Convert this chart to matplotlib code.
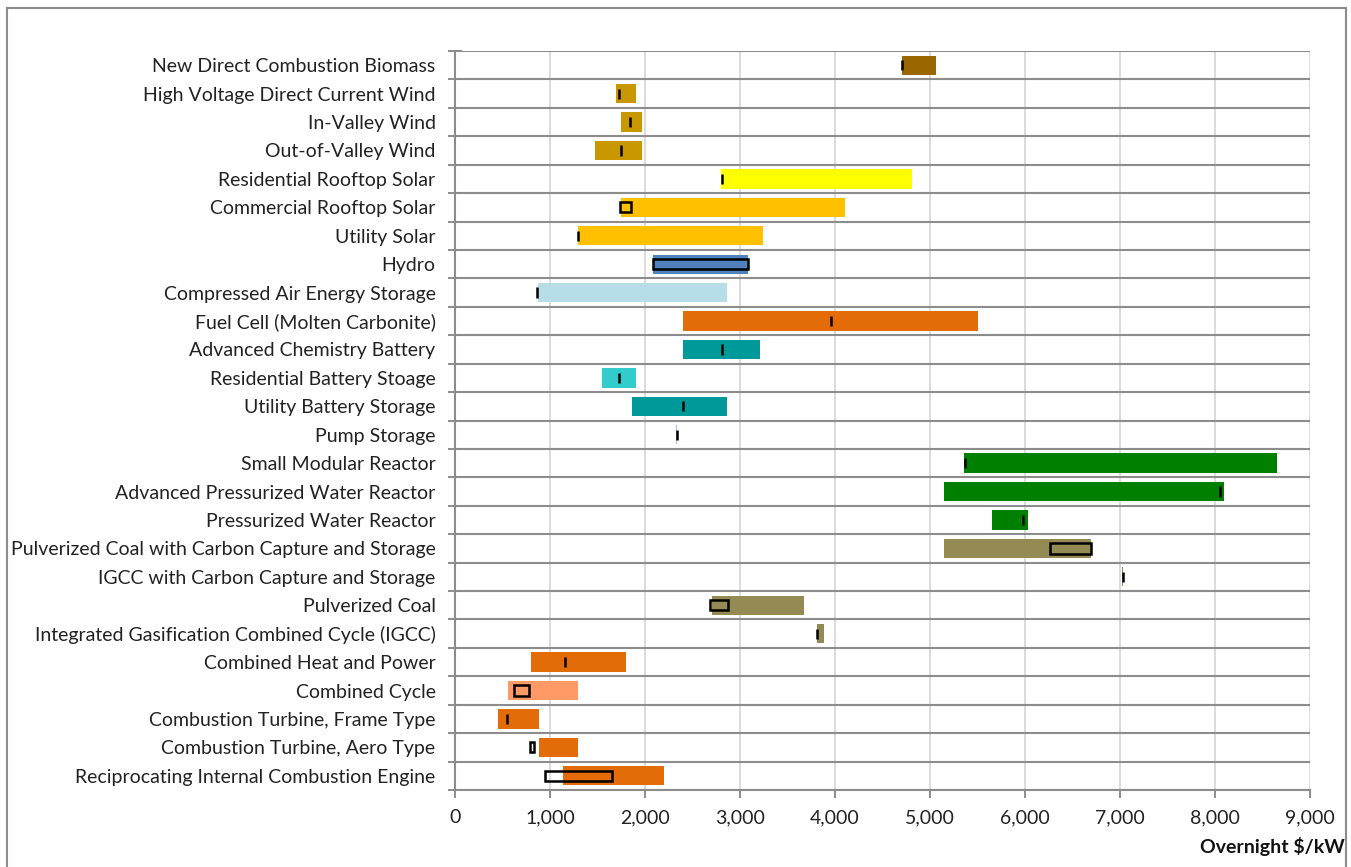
import matplotlib
matplotlib.use("Agg")
import matplotlib.pyplot as plt
from matplotlib.patches import Rectangle
import numpy as np

plt.rcParams['font.family'] = ['Lato', 'DejaVu Sans']

categories = [
    "New Direct Combustion Biomass",
    "High Voltage Direct Current Wind",
    "In-Valley Wind",
    "Out-of-Valley Wind",
    "Residential Rooftop Solar",
    "Commercial Rooftop Solar",
    "Utility Solar",
    "Hydro",
    "Compressed Air Energy Storage",
    "Fuel Cell (Molten Carbonite)",
    "Advanced Chemistry Battery",
    "Residential Battery Stoage",
    "Utility Battery Storage",
    "Pump Storage",
    "Small Modular Reactor",
    "Advanced Pressurized Water Reactor",
    "Pressurized Water Reactor",
    "Pulverized Coal with Carbon Capture and Storage",
    "IGCC with Carbon Capture and Storage",
    "Pulverized Coal",
    "Integrated Gasification Combined Cycle (IGCC)",
    "Combined Heat and Power",
    "Combined Cycle",
    "Combustion Turbine, Frame Type",
    "Combustion Turbine, Aero Type",
    "Reciprocating Internal Combustion Engine",
]

range_low = [4705, 1690, 1745, 1470, 2805, 1745, 1290, 2080, 875, 2400, 2400, 1550, 1860,
             2330, 5355, 5150, 5655, 5150, 7018, 2705, 3808, 800, 563, 455, 881, 1140]
range_high = [5065, 1905, 1965, 1965, 4808, 4107, 3247, 3085, 2863, 5506, 3207, 1904, 2863,
              2342, 8656, 8095, 6032, 6691, 7032, 3678, 3885, 1804, 1297, 881, 1297, 2199]

est_low = [4700, 1722, 1845, 1745, 2812, 1742, 1295, 2085, 863, 3963, 2812, 1723, 2402,
           2336, 5368, 8049, 5982, 6263, 7028, 2682, 3815, 1154, 619, 549, 790, 944]
est_high = [4700, 1722, 1845, 1745, 2812, 1852, 1295, 3081, 863, 3963, 2812, 1723, 2402,
            2336, 5368, 8049, 5982, 6691, 7028, 2878, 3815, 1154, 780, 549, 836, 1657]

bar_colors = ["#996600", "#C99700", "#C99700", "#C99700", "#FFFF00", "#FFC000", "#FFC000",
              "#4F81BD", "#B7DDE8", "#E36C09", "#009999", "#33CCCC", "#009999", "#93CDDD",
              "#008000", "#008000", "#008000", "#948A54", "#948A54", "#948A54", "#948A54",
              "#E36C09", "#FF9966", "#E36C09", "#E36C09", "#E36C09"]

xticks = [0, 1000, 2000, 3000, 4000, 5000, 6000, 7000, 8000, 9000]

W, H = 1351, 867
fig = plt.figure(figsize=(W / 100, H / 100), dpi=100)
ax = fig.add_axes([455 / W, 1 - 790 / H, (1310 - 455) / W, (790 - 51) / H])

n = len(categories)
y = np.arange(n)
widths = np.array(range_high) - np.array(range_low)
ax.barh(y, widths, left=range_low, height=0.68, color=bar_colors, zorder=3)
ew = np.array(est_high) - np.array(est_low)
ax.barh(y, ew, left=est_low, height=0.36, fill=False, edgecolor="black",
        linewidth=1.8, zorder=4)

ax.set_xlim(0, 9000)
ax.set_ylim(n - 0.5, -0.5)
ax.set_xticks(xticks)
ax.set_xticklabels([f"{v:,}" for v in xticks], fontsize=14, color="#222222")
ax.set_yticks(y)
ax.set_yticklabels(categories, fontsize=14, color="#222222")
ax.set_yticks(np.arange(-0.5, n, 1.0), minor=True)
ax.tick_params(axis='y', which='major', length=0, pad=14)
ax.tick_params(axis='y', which='minor', direction='inout', length=10, width=1.4, color="#8C8C8C")
ax.tick_params(axis='x', which='major', direction='out', length=6, width=1.4,
               color="#8C8C8C", pad=8)

for b in np.arange(-0.5, n, 1.0):
    ax.axhline(b, color="#8C8C8C", lw=1.5, zorder=2)
for xv in xticks[1:]:
    ax.axvline(xv, color="#D9D9D9", lw=1.3, zorder=1)

for s in ["top", "right"]:
    ax.spines[s].set_visible(False)
for s in ["left", "bottom"]:
    ax.spines[s].set_color("#8C8C8C")
    ax.spines[s].set_linewidth(1.5)
    ax.spines[s].set_zorder(5)

fig.text(1345 / W, 1 - 847 / H, "Overnight $/kW", ha="right", va="center",
         fontsize=14, fontweight="bold", color="#111111")

fig.patches.append(Rectangle((7 / W, -0.1), (1346 - 7) / W, 1.1 - 8 / H,
                             transform=fig.transFigure, fill=False,
                             edgecolor="#8C8C8C", linewidth=1.5))

fig.savefig("out.png", dpi=100)
